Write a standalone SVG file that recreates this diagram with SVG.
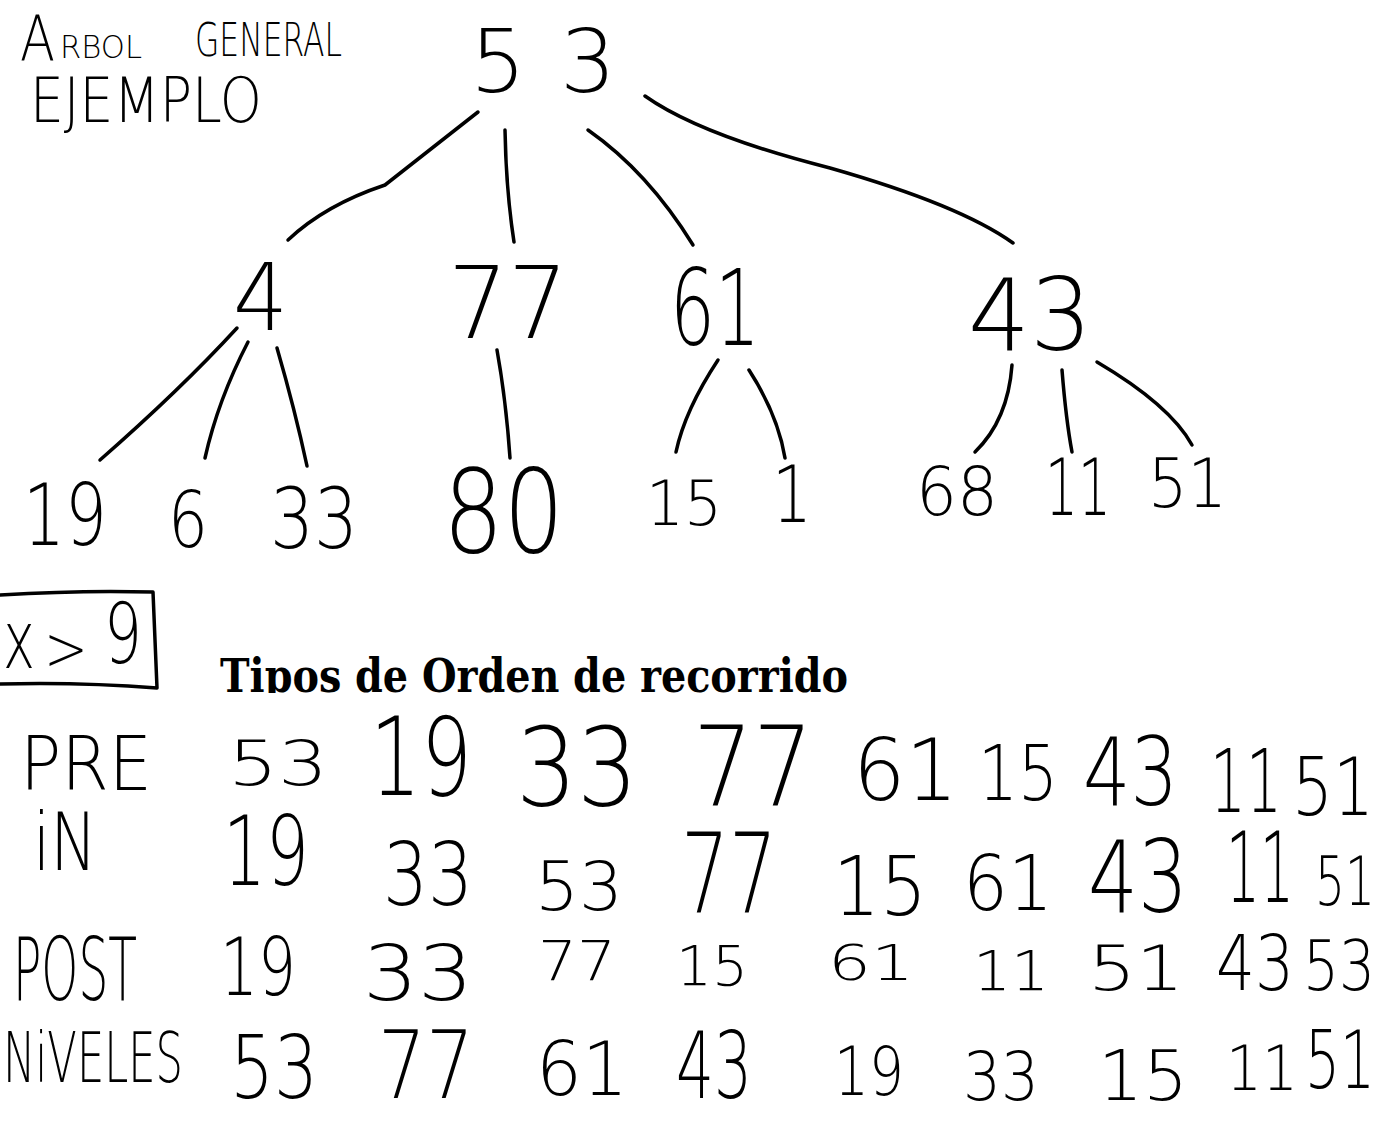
<svg xmlns="http://www.w3.org/2000/svg" width="1379" height="1122" viewBox="0 0 1379 1122">
<style>
.h{font-family:"DejaVu Sans","Liberation Sans",sans-serif;font-weight:200;fill:#000;}
.e{fill:none;stroke:#000;stroke-width:3.5;stroke-linecap:round;stroke-linejoin:round;}
.t{font-family:"DejaVu Serif Condensed","DejaVu Serif","Liberation Serif",serif;font-stretch:condensed;font-weight:bold;fill:#000;}
</style>
<defs>
<clipPath id="cut"><rect x="0" y="600" width="1379" height="93"/></clipPath>
</defs>
<rect width="1379" height="1122" fill="#fff"/>

<g id="title">
<text class="h" x="20" y="60" font-size="62" textLength="35" lengthAdjust="spacingAndGlyphs">A</text>
<text class="h" x="60" y="58" font-size="32" textLength="82" lengthAdjust="spacingAndGlyphs">RBOL</text>
<text class="h" x="195" y="56" font-size="46" textLength="147" lengthAdjust="spacingAndGlyphs">GENERAL</text>
<text class="h" x="30" y="122" font-size="62" textLength="232" lengthAdjust="spacingAndGlyphs">EJEMPLO</text>
</g>

<g id="connectors">
<path class="e" d="M478,112 L385,185 Q325,205 288,240"/>
<path class="e" d="M505,130 Q506,190 514,242"/>
<path class="e" d="M588,130 Q648,172 693,245"/>
<path class="e" d="M645,96 Q700,135 830,168 Q960,205 1013,243"/>
<path class="e" d="M237,328 Q180,390 100,460"/>
<path class="e" d="M248,342 Q218,400 205,458"/>
<path class="e" d="M277,348 Q295,410 307,466"/>
<path class="e" d="M497,350 Q506,400 510,458"/>
<path class="e" d="M718,360 Q685,410 676,452"/>
<path class="e" d="M749,370 Q778,415 785,458"/>
<path class="e" d="M1012,365 Q1008,420 975,452"/>
<path class="e" d="M1062,370 Q1066,420 1072,452"/>
<path class="e" d="M1097,362 Q1170,405 1192,445"/>
</g>

<g id="n53"><text class="h" x="470" y="92" font-size="88" textLength="146" lengthAdjust="spacing">53</text></g>
<g id="n4"><text class="h" x="233" y="330" font-size="93" textLength="55" lengthAdjust="spacingAndGlyphs">4</text></g>
<g id="n77"><text class="h" x="448" y="338" font-size="100" textLength="120" lengthAdjust="spacingAndGlyphs">77</text></g>
<g id="n61"><text class="h" x="670" y="345" font-size="105" textLength="90" lengthAdjust="spacingAndGlyphs">61</text></g>
<g id="n43"><text class="h" x="968" y="350" font-size="100" textLength="124" lengthAdjust="spacingAndGlyphs">43</text></g>
<g id="n19"><text class="h" x="23" y="545" font-size="86" textLength="84" lengthAdjust="spacingAndGlyphs">19</text></g>
<g id="n6"><text class="h" x="168" y="547" font-size="78" textLength="40" lengthAdjust="spacingAndGlyphs">6</text></g>
<g id="n33"><text class="h" x="270" y="548" font-size="84" textLength="88" lengthAdjust="spacingAndGlyphs">33</text></g>
<g id="n80"><text class="h" x="443" y="552" font-size="115" textLength="121" lengthAdjust="spacingAndGlyphs">80</text></g>
<g id="n15"><text class="h" x="646" y="525" font-size="62" textLength="76" lengthAdjust="spacingAndGlyphs">15</text></g>
<g id="n1"><text class="h" x="772" y="522" font-size="78" textLength="40" lengthAdjust="spacingAndGlyphs">1</text></g>
<g id="n68"><text class="h" x="916" y="515" font-size="68" textLength="82" lengthAdjust="spacingAndGlyphs">68</text></g>
<g id="n11"><text class="h" x="1045" y="515" font-size="78" textLength="66" lengthAdjust="spacingAndGlyphs">11</text></g>
<g id="n51"><text class="h" x="1148" y="507" font-size="68" textLength="79" lengthAdjust="spacingAndGlyphs">51</text></g>

<g id="condition">
<path class="e" d="M0,595 Q80,590 153,592 L157,688 Q80,682 0,684"/>
<text class="h" x="3" y="668" font-size="80" textLength="32" lengthAdjust="spacingAndGlyphs">x</text>
<text class="h" x="44" y="670" font-size="62" textLength="44" lengthAdjust="spacingAndGlyphs">&gt;</text>
<text class="h" x="104" y="663" font-size="84" textLength="38" lengthAdjust="spacingAndGlyphs">9</text>
</g>

<g id="heading" clip-path="url(#cut)">
<text class="t" x="220" y="692" font-size="46" textLength="628" lengthAdjust="spacingAndGlyphs">Tipos de Orden de recorrido</text>
</g>

<g id="pre">
<text class="h" x="20" y="790" font-size="75" textLength="132" lengthAdjust="spacingAndGlyphs">PRE</text>
<text class="h" x="228" y="785" font-size="62" textLength="100" lengthAdjust="spacingAndGlyphs">53</text>
<text class="h" x="370" y="795" font-size="108" textLength="102" lengthAdjust="spacingAndGlyphs">19</text>
<text class="h" x="516" y="805" font-size="108" textLength="122" lengthAdjust="spacingAndGlyphs">33</text>
<text class="h" x="693" y="805" font-size="110" textLength="120" lengthAdjust="spacingAndGlyphs">77</text>
<text class="h" x="853" y="800" font-size="85" textLength="105" lengthAdjust="spacingAndGlyphs">61</text>
<text class="h" x="978" y="800" font-size="76" textLength="80" lengthAdjust="spacingAndGlyphs">15</text>
<text class="h" x="1083" y="805" font-size="95" textLength="95" lengthAdjust="spacingAndGlyphs">43</text>
<text class="h" x="1210" y="812" font-size="88" textLength="72" lengthAdjust="spacingAndGlyphs">11</text>
<text class="h" x="1292" y="815" font-size="80" textLength="82" lengthAdjust="spacingAndGlyphs">51</text>
</g>

<g id="in">
<text class="h" x="33" y="870" font-size="80" textLength="64" lengthAdjust="spacingAndGlyphs">iN</text>
<text class="h" x="223" y="885" font-size="96" textLength="86" lengthAdjust="spacingAndGlyphs">19</text>
<text class="h" x="383" y="905" font-size="88" textLength="90" lengthAdjust="spacingAndGlyphs">33</text>
<text class="h" x="535" y="910" font-size="68" textLength="88" lengthAdjust="spacingAndGlyphs">53</text>
<text class="h" x="681" y="912" font-size="110" textLength="96" lengthAdjust="spacingAndGlyphs">77</text>
<text class="h" x="833" y="915" font-size="82" textLength="94" lengthAdjust="spacingAndGlyphs">15</text>
<text class="h" x="963" y="910" font-size="76" textLength="90" lengthAdjust="spacingAndGlyphs">61</text>
<text class="h" x="1088" y="912" font-size="100" textLength="100" lengthAdjust="spacingAndGlyphs">43</text>
<text class="h" x="1226" y="902" font-size="98" textLength="68" lengthAdjust="spacingAndGlyphs">11</text>
<text class="h" x="1315" y="905" font-size="68" textLength="60" lengthAdjust="spacingAndGlyphs">51</text>
</g>

<g id="post">
<text class="h" x="13" y="1000" font-size="88" textLength="124" lengthAdjust="spacingAndGlyphs">POST</text>
<text class="h" x="220" y="995" font-size="80" textLength="76" lengthAdjust="spacingAndGlyphs">19</text>
<text class="h" x="363" y="1000" font-size="76" textLength="110" lengthAdjust="spacingAndGlyphs">33</text>
<text class="h" x="538" y="980" font-size="56" textLength="78" lengthAdjust="spacingAndGlyphs">77</text>
<text class="h" x="676" y="985" font-size="56" textLength="72" lengthAdjust="spacingAndGlyphs">15</text>
<text class="h" x="828" y="980" font-size="50" textLength="86" lengthAdjust="spacingAndGlyphs">61</text>
<text class="h" x="973" y="990" font-size="56" textLength="76" lengthAdjust="spacingAndGlyphs">11</text>
<text class="h" x="1088" y="990" font-size="62" textLength="96" lengthAdjust="spacingAndGlyphs">51</text>
<text class="h" x="1216" y="990" font-size="76" textLength="78" lengthAdjust="spacingAndGlyphs">43</text>
<text class="h" x="1303" y="990" font-size="70" textLength="72" lengthAdjust="spacingAndGlyphs">53</text>
</g>

<g id="niveles">
<text class="h" x="3" y="1082" font-size="70" textLength="180" lengthAdjust="spacingAndGlyphs">NiVELES</text>
<text class="h" x="230" y="1098" font-size="88" textLength="88" lengthAdjust="spacingAndGlyphs">53</text>
<text class="h" x="378" y="1098" font-size="95" textLength="96" lengthAdjust="spacingAndGlyphs">77</text>
<text class="h" x="536" y="1095" font-size="74" textLength="92" lengthAdjust="spacingAndGlyphs">61</text>
<text class="h" x="676" y="1098" font-size="92" textLength="76" lengthAdjust="spacingAndGlyphs">43</text>
<text class="h" x="834" y="1095" font-size="68" textLength="70" lengthAdjust="spacingAndGlyphs">19</text>
<text class="h" x="963" y="1100" font-size="68" textLength="76" lengthAdjust="spacingAndGlyphs">33</text>
<text class="h" x="1098" y="1100" font-size="70" textLength="90" lengthAdjust="spacingAndGlyphs">15</text>
<text class="h" x="1226" y="1090" font-size="62" textLength="72" lengthAdjust="spacingAndGlyphs">11</text>
<text class="h" x="1305" y="1088" font-size="80" textLength="70" lengthAdjust="spacingAndGlyphs">51</text>
</g>
</svg>
